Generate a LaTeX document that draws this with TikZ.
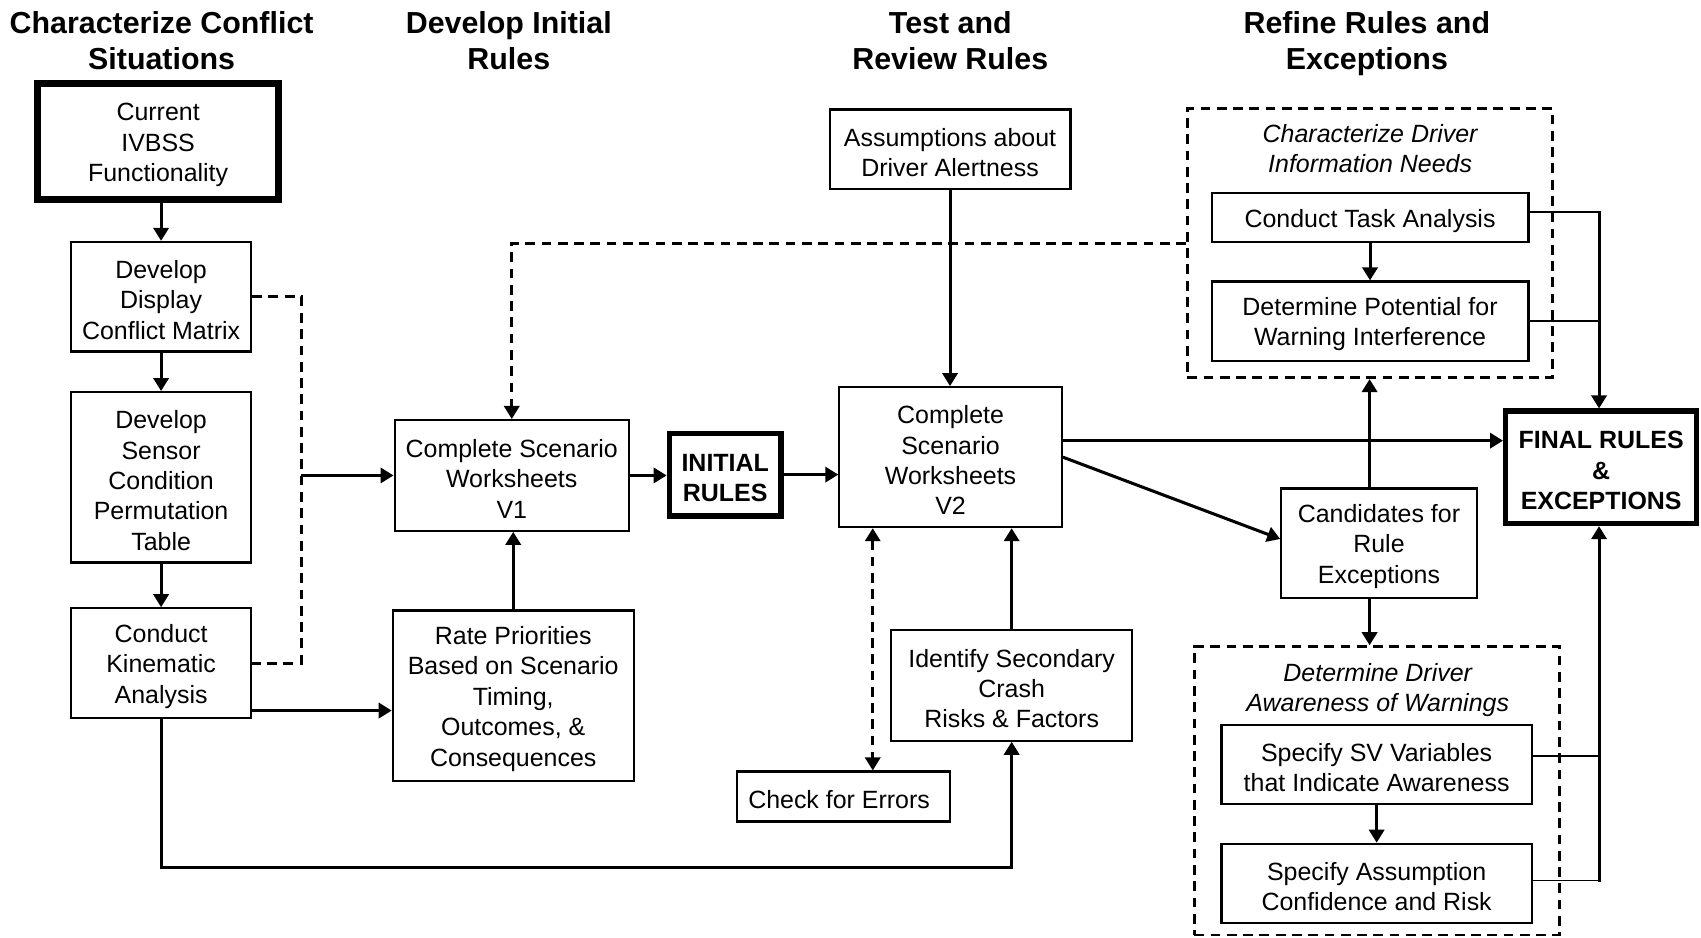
\documentclass[tikz,border=0pt]{standalone}
\usepackage{fontspec}
\setmainfont{Liberation Sans}
\usetikzlibrary{arrows.meta,calc}
\newcommand{\bodyfs}{\fontsize{23}{28}\selectfont}
\newcommand{\headfs}{\fontsize{28}{33}\selectfont\bfseries}
\newcommand{\fl}{\rule{0pt}{22.5pt}}
\begin{document}
\begin{tikzpicture}[x=1pt,y=-1pt,
  box/.style={draw, line width=2pt, inner sep=0pt, align=center, font=\bodyfs},
  heavybox/.style={draw, line width=#1, inner sep=0pt, align=center},
  sz/.style 2 args={minimum width=#1, minimum height=#2},
  grp/.style={draw, line width=2.5pt, dash pattern=on 9pt off 6pt, inner sep=0pt},
  head/.style={align=center, font=\headfs},
  ttl/.style={align=center, font=\bodyfs\itshape},
  tip/.style={-{Triangle[length=12pt,width=14pt]}},
  arr/.style={line width=2.8pt, tip},
  ln/.style={line width=2.8pt},
  thinln/.style={line width=1.6pt},
  dsh/.style={line width=2.8pt, dash pattern=on 9pt off 6pt},
]
\useasboundingbox (0,0) rectangle (1568,864);
\fill[white] (0,0) rectangle (1568,864);

% headers
\node[head] (h1) at (149,37.5) {Characterize Conflict\\Situations};
\node[head] (h2) at (469,37.5) {Develop Initial\\Rules};
\node[head] (h3) at (876,37.5) {Test and\\Review Rules};
\node[head] (h4) at (1260,40) {Refine Rules and\\Exceptions};

% boxes
\node[heavybox=6.5pt, font=\bodyfs, sz={222.5}{107}] (cur) at (145.75,130.5) {\fl Current\\IVBSS\\Functionality};
\node[box, sz={166}{101}] (disp) at (148.5,273.5) {\fl Develop\\Display\\Conflict Matrix};
\node[box, sz={166}{157}] (sens) at (148.5,440) {\fl Develop\\Sensor\\Condition\\Permutation\\Table};
\node[box, sz={166}{101}] (kin) at (148.5,611.25) {\fl Conduct\\Kinematic\\Analysis};
\node[box, sz={216}{102}] (v1) at (471.75,438.25) {\fl Complete Scenario\\Worksheets\\V1};
\node[box, sz={222}{157}] (rate) at (473.1,641.3) {\fl Rate Priorities\\Based on Scenario\\Timing,\\Outcomes, \&\\Consequences};
\node[heavybox=5pt, font=\bodyfs\bfseries, sz={103}{76}] (init) at (668.5,437.5) {\fl INITIAL\\RULES};
\node[box, sz={205}{129}] (v2) at (876.25,421.4) {\fl Complete\\Scenario\\Worksheets\\V2};
\node[box, sz={222}{73}] (assum) at (875.75,137.5) {\fl Assumptions about\\Driver Alertness};
\node[box, sz={196}{46}] (check) at (777.45,734.2) {\fl Check for Errors\kern8pt};
\node[box, sz={222}{102}] (sec) at (932.55,631.75) {\fl Identify Secondary\\Crash\\Risks \& Factors};
\node[box, sz={180}{101}] (cand) at (1271.15,500.85) {\fl Candidates for\\Rule\\Exceptions};
\node[heavybox=5pt, font=\bodyfs\bfseries, sz={176}{103.5}] (final) at (1476,430.75) {\fl FINAL RULES\\\&\\EXCEPTIONS};

\node[grp, sz={336.5}{248.2}] (g1) at (1262.75,224.1) {};
\node[ttl] (g1t) at (1263,137) {Characterize Driver\\Information Needs};
\node[box, sz={292}{44.5}] (task) at (1262.9,200.5) {\fl Conduct Task Analysis};
\node[box, sz={292}{73}] (pot) at (1262.9,296) {\fl Determine Potential for\\Warning Interference};

\node[grp, sz={336.4}{265.9}] (g2) at (1269.2,729) {};
\node[ttl] (g2t) at (1270,636) {Determine Driver\\Awareness of Warnings};
\node[box, sz={286}{72.7}] (sv) at (1269,704.75) {\fl Specify SV Variables\\that Indicate Awareness};
\node[box, sz={286}{73.3}] (ass2) at (1269,814.45) {\fl Specify Assumption\\Confidence and Risk};

% helper coordinates
\coordinate (dx) at (277.5,0);
\coordinate (ky) at (0,655);
\coordinate (fy) at (0,406.2);
\coordinate (cx) at (1262.5,0);
\coordinate (ex) at (804.5,0);
\coordinate (by) at (0,799.5);
\coordinate (rx) at (1474,0);

% left column
\draw[arr] (disp.north |- cur.south) -- (disp.north);
\draw[arr] (disp) -- (sens);
\draw[arr] (sens) -- (kin);
\draw[dsh] (disp.east) -- (disp.east -| dx) -- (kin.east -| dx) -- (kin.east);
\draw[arr] (v1.west -| dx) -- (v1.west);
\draw[arr] (kin.east |- ky) -- (rate.west |- ky);
\draw[arr] (rate.north) -- (rate.north |- v1.south);
\draw[arr] (v1.east) -- (v1.east -| init.west);
\draw[arr] (init.east) -- (init.east -| v2.west);
\draw[dsh, tip] (g1.west) -- (g1.west -| v1.north) -- (v1.north);

% middle
\draw[arr] (assum.south) -- (assum.south |- v2.north);
\draw[dsh, {Triangle[length=12pt,width=14pt]}-{Triangle[length=12pt,width=14pt]}] (v2.south -| ex) -- (check.north -| ex);
\draw[arr] (sec.north) -- (sec.north |- v2.south);
\draw[arr] (kin.south) -- (kin.south |- by) -- (sec.south |- by) -- (sec.south);
\draw[arr] (v2.east |- fy) -- (final.west |- fy);
\draw[arr] (v2.east) -- ([yshift=4pt]cand.west);

% right
\draw[arr] (cand.north -| cx) -- (g1.south -| cx);
\draw[arr] (cand.south -| cx) -- (g2.north -| cx);
\draw[arr] (task.south) -- (pot.north);
\draw[arr] (sv.south) -- (ass2.north);

\draw[thinln] ([yshift=4.8pt]task.east) -- ([yshift=4.8pt]task.east -| rx);
\draw[thinln] (pot.east) -- (pot.east -| rx);
\draw[arr, line cap=rect] ([yshift=4.8pt]task.east -| rx) -- (final.north -| rx);
\draw[thinln] ([yshift=8pt]sv.east) -- ([yshift=8pt]sv.east -| rx);
\draw[thinln] ([yshift=2.7pt]ass2.east) -- ([yshift=2.7pt]ass2.east -| rx);
\draw[arr, line cap=rect] ([yshift=2.7pt]ass2.east -| rx) -- (final.south -| rx);
\end{tikzpicture}
\end{document}
